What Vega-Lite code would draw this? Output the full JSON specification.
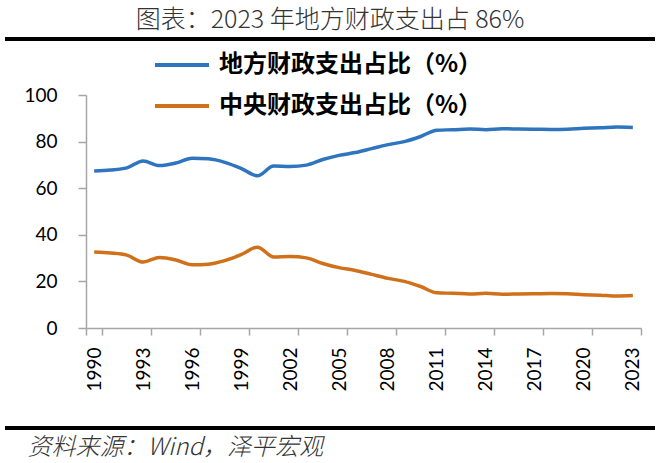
{
  "$schema": "https://vega.github.io/schema/vega-lite/v6.json",
  "width": 650,
  "height": 389,
  "autosize": {"type": "none"},
  "padding": {"left": 5, "top": 39, "right": 5, "bottom": 35},
  "background": "white",
  "config": {"view": {"stroke": null}},
  "title": {
    "text": "图表：2023 年地方财政支出占 86%",
    "frame": "group",
    "anchor": "middle",
    "orient": "top",
    "offset": -9,
    "baseline": "middle",
    "font": "Noto Sans CJK SC",
    "fontSize": 25,
    "fontWeight": 300,
    "color": "#333333"
  },
  "data": {
    "values": [
      {"year": 1990, "series": "地方财政支出占比（%）", "value": 67.4},
      {"year": 1991, "series": "地方财政支出占比（%）", "value": 67.8},
      {"year": 1992, "series": "地方财政支出占比（%）", "value": 68.7},
      {"year": 1993, "series": "地方财政支出占比（%）", "value": 71.7},
      {"year": 1994, "series": "地方财政支出占比（%）", "value": 69.7},
      {"year": 1995, "series": "地方财政支出占比（%）", "value": 70.8},
      {"year": 1996, "series": "地方财政支出占比（%）", "value": 72.9},
      {"year": 1997, "series": "地方财政支出占比（%）", "value": 72.6},
      {"year": 1998, "series": "地方财政支出占比（%）", "value": 71.1},
      {"year": 1999, "series": "地方财政支出占比（%）", "value": 68.5},
      {"year": 2000, "series": "地方财政支出占比（%）", "value": 65.3},
      {"year": 2001, "series": "地方财政支出占比（%）", "value": 69.5},
      {"year": 2002, "series": "地方财政支出占比（%）", "value": 69.3},
      {"year": 2003, "series": "地方财政支出占比（%）", "value": 69.9},
      {"year": 2004, "series": "地方财政支出占比（%）", "value": 72.3},
      {"year": 2005, "series": "地方财政支出占比（%）", "value": 74.1},
      {"year": 2006, "series": "地方财政支出占比（%）", "value": 75.3},
      {"year": 2007, "series": "地方财政支出占比（%）", "value": 77.0},
      {"year": 2008, "series": "地方财政支出占比（%）", "value": 78.7},
      {"year": 2009, "series": "地方财政支出占比（%）", "value": 80.0},
      {"year": 2010, "series": "地方财政支出占比（%）", "value": 82.2},
      {"year": 2011, "series": "地方财政支出占比（%）", "value": 84.9},
      {"year": 2012, "series": "地方财政支出占比（%）", "value": 85.1},
      {"year": 2013, "series": "地方财政支出占比（%）", "value": 85.4},
      {"year": 2014, "series": "地方财政支出占比（%）", "value": 85.1},
      {"year": 2015, "series": "地方财政支出占比（%）", "value": 85.5},
      {"year": 2016, "series": "地方财政支出占比（%）", "value": 85.4},
      {"year": 2017, "series": "地方财政支出占比（%）", "value": 85.3},
      {"year": 2018, "series": "地方财政支出占比（%）", "value": 85.2},
      {"year": 2019, "series": "地方财政支出占比（%）", "value": 85.3},
      {"year": 2020, "series": "地方财政支出占比（%）", "value": 85.7},
      {"year": 2021, "series": "地方财政支出占比（%）", "value": 85.9},
      {"year": 2022, "series": "地方财政支出占比（%）", "value": 86.3},
      {"year": 2023, "series": "地方财政支出占比（%）", "value": 86.1},
      {"year": 1990, "series": "中央财政支出占比（%）", "value": 32.6},
      {"year": 1991, "series": "中央财政支出占比（%）", "value": 32.2},
      {"year": 1992, "series": "中央财政支出占比（%）", "value": 31.3},
      {"year": 1993, "series": "中央财政支出占比（%）", "value": 28.3},
      {"year": 1994, "series": "中央财政支出占比（%）", "value": 30.3},
      {"year": 1995, "series": "中央财政支出占比（%）", "value": 29.2},
      {"year": 1996, "series": "中央财政支出占比（%）", "value": 27.1},
      {"year": 1997, "series": "中央财政支出占比（%）", "value": 27.4},
      {"year": 1998, "series": "中央财政支出占比（%）", "value": 28.9},
      {"year": 1999, "series": "中央财政支出占比（%）", "value": 31.5},
      {"year": 2000, "series": "中央财政支出占比（%）", "value": 34.7},
      {"year": 2001, "series": "中央财政支出占比（%）", "value": 30.5},
      {"year": 2002, "series": "中央财政支出占比（%）", "value": 30.7},
      {"year": 2003, "series": "中央财政支出占比（%）", "value": 30.1},
      {"year": 2004, "series": "中央财政支出占比（%）", "value": 27.7},
      {"year": 2005, "series": "中央财政支出占比（%）", "value": 25.9},
      {"year": 2006, "series": "中央财政支出占比（%）", "value": 24.7},
      {"year": 2007, "series": "中央财政支出占比（%）", "value": 23.0},
      {"year": 2008, "series": "中央财政支出占比（%）", "value": 21.3},
      {"year": 2009, "series": "中央财政支出占比（%）", "value": 20.0},
      {"year": 2010, "series": "中央财政支出占比（%）", "value": 17.8},
      {"year": 2011, "series": "中央财政支出占比（%）", "value": 15.1},
      {"year": 2012, "series": "中央财政支出占比（%）", "value": 14.9},
      {"year": 2013, "series": "中央财政支出占比（%）", "value": 14.6},
      {"year": 2014, "series": "中央财政支出占比（%）", "value": 14.9},
      {"year": 2015, "series": "中央财政支出占比（%）", "value": 14.5},
      {"year": 2016, "series": "中央财政支出占比（%）", "value": 14.6},
      {"year": 2017, "series": "中央财政支出占比（%）", "value": 14.7},
      {"year": 2018, "series": "中央财政支出占比（%）", "value": 14.8},
      {"year": 2019, "series": "中央财政支出占比（%）", "value": 14.7},
      {"year": 2020, "series": "中央财政支出占比（%）", "value": 14.3},
      {"year": 2021, "series": "中央财政支出占比（%）", "value": 14.1},
      {"year": 2022, "series": "中央财政支出占比（%）", "value": 13.7},
      {"year": 2023, "series": "中央财政支出占比（%）", "value": 13.9}
    ]
  },
  "layer": [
    {
      "mark": {"type": "line", "interpolate": "monotone", "strokeWidth": 3.5},
      "encoding": {
        "x": {
          "field": "year",
          "type": "ordinal",
          "bandPosition": 0.5,
          "scale": {"type": "band", "range": [81, 636], "paddingInner": 0, "paddingOuter": 0},
          "axis": {
            "title": "资料来源：Wind，泽平宏观",
            "values": [1990, 1993, 1996, 1999, 2002, 2005, 2008, 2011, 2014, 2017, 2020, 2023],
            "offset": -100,
            "tickBand": "extent",
            "grid": false,
            "domainColor": "#A6A6A6",
            "domainWidth": 1.5,
            "tickColor": "#A6A6A6",
            "tickWidth": 1.5,
            "tickSize": 7,
            "labelAngle": -90,
            "labelAlign": "right",
            "labelBaseline": "middle",
            "labelPadding": 12,
            "labelFont": "Lato",
            "labelFontSize": 19,
            "labelColor": "#000000",
            "titleX": 22,
            "titleY": 119,
            "titleAlign": "left",
            "titleBaseline": "middle",
            "titleAngle": 0,
            "titleFont": "Noto Sans CJK SC",
            "titleFontSize": 24,
            "titleFontStyle": "italic",
            "titleFontWeight": 300,
            "titleColor": "#333333"
          }
        },
        "y": {
          "field": "value",
          "type": "quantitative",
          "scale": {"domain": [0, 100], "range": [289, 56], "nice": false},
          "axis": {
            "title": null,
            "values": [0, 20, 40, 60, 80, 100],
            "offset": -81,
            "grid": false,
            "domainColor": "#A6A6A6",
            "domainWidth": 1.5,
            "tickColor": "#A6A6A6",
            "tickWidth": 1.5,
            "tickSize": 8,
            "labelPadding": 21,
            "labelFont": "Lato",
            "labelFontSize": 19,
            "labelColor": "#000000"
          }
        },
        "color": {
          "field": "series",
          "type": "nominal",
          "scale": {
            "domain": ["地方财政支出占比（%）", "中央财政支出占比（%）"],
            "range": ["#2E74BF", "#D0701A"]
          },
          "legend": {
            "orient": "none",
            "legendX": 148,
            "legendY": -3,
            "title": null,
            "symbolType": "stroke",
            "symbolSize": 2916,
            "symbolStrokeWidth": 4,
            "labelFont": "Noto Sans CJK SC",
            "labelFontSize": 24,
            "labelFontWeight": "bold",
            "labelColor": "#000000",
            "labelLimit": 0,
            "labelOffset": 8,
            "rowPadding": -15
          }
        }
      }
    },
    {
      "data": {"values": [{"edge": 124.03}, {"edge": -42.9}]},
      "mark": {"type": "rule", "color": "#000000", "strokeWidth": 4},
      "encoding": {
        "y": {"field": "edge", "type": "quantitative"}
      }
    }
  ]
}
